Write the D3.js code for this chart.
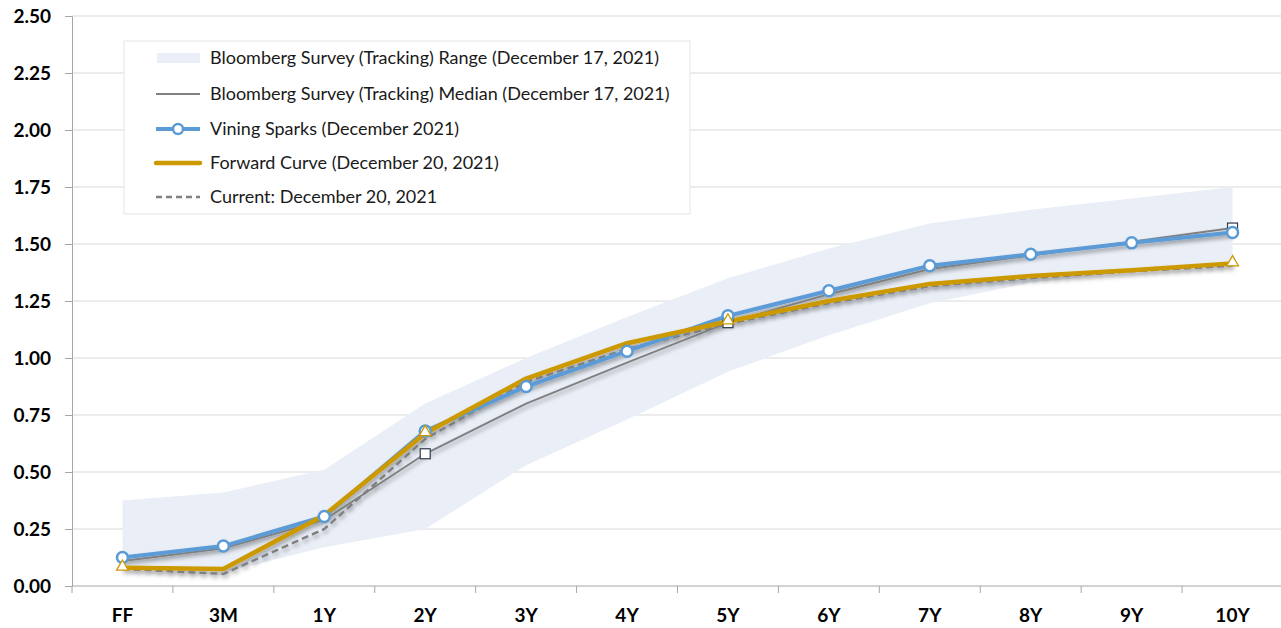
<!DOCTYPE html>
<html>
<head>
<meta charset="utf-8">
<script src="https://cdn.jsdelivr.net/npm/d3@7"></script>
<style>
  html, body { margin: 0; padding: 0; background: #fff; }
  svg { display: block; font-family: Lato, "Open Sans", "Liberation Sans", sans-serif; }
</style>
</head>
<body>
<svg id="chart" width="1281" height="628"></svg>
<script>
// Tenors along the curve
const tenors = ["FF", "3M", "1Y", "2Y", "3Y", "4Y", "5Y", "6Y", "7Y", "8Y", "9Y", "10Y"];

// Bloomberg survey range (low / high)
const rangeLow  = [0.08, 0.06, 0.17, 0.25, 0.53, 0.73, 0.94, 1.10, 1.24, 1.33, 1.38, 1.42];
const rangeHigh = [0.375, 0.41, 0.51, 0.80, 1.00, 1.18, 1.35, 1.48, 1.59, 1.65, 1.70, 1.75];

const median   = [0.11, 0.165, 0.29, 0.58, 0.80, 0.98, 1.155, 1.28, 1.39, 1.45, 1.51, 1.57];
const vining   = [0.125, 0.175, 0.305, 0.68, 0.875, 1.03, 1.185, 1.295, 1.405, 1.455, 1.505, 1.55];
const forward  = [0.08, 0.075, 0.31, 0.67, 0.91, 1.065, 1.16, 1.25, 1.325, 1.36, 1.385, 1.415];
const current  = [0.075, 0.053, 0.25, 0.645, 0.895, 1.04, 1.15, 1.24, 1.315, 1.35, 1.38, 1.405];

// only a few points carry markers in the original
const medianMarks  = ["2Y", "5Y", "10Y"];
const forwardMarks = ["FF", "2Y", "5Y", "10Y"];

const yTicks = [0, 0.25, 0.5, 0.75, 1.0, 1.25, 1.5, 1.75, 2.0, 2.25, 2.5];

const legendItems = [
  { label: "Bloomberg Survey (Tracking) Range (December 17, 2021)", kind: "range" },
  { label: "Bloomberg Survey (Tracking) Median (December 17, 2021)", kind: "median" },
  { label: "Vining Sparks (December 2021)", kind: "vining" },
  { label: "Forward Curve (December 20, 2021)", kind: "forward" },
  { label: "Current: December 20, 2021", kind: "current" },
];

const colors = {
  band: "#E9EEF7",
  median: "#808080",
  vining: "#5B9BD5",
  forward: "#CC9900",
  current: "#808080",
  grid: "#D9D9D9",
  axis: "#A6A6A6",
};

const margin = { top: 16, right: 0, bottom: 42, left: 72 };
const width = 1281, height = 628;
const innerW = 1283 - margin.left;
const innerH = height - margin.top - margin.bottom;

const svg = d3.select("#chart");

const defs = svg.append("defs");
const shadow = defs.append("filter").attr("id", "shadow")
  .attr("x", "-5%").attr("y", "-20%").attr("width", "110%").attr("height", "140%");
shadow.append("feDropShadow")
  .attr("dx", 1).attr("dy", 3).attr("stdDeviation", 2)
  .attr("flood-color", "#000").attr("flood-opacity", 0.35);

const g = svg.append("g").attr("transform", `translate(${margin.left},${margin.top})`);

const x = d3.scaleBand().domain(tenors).range([0, innerW]);
const cx = (t) => x(t) + x.bandwidth() / 2;
const y = d3.scaleLinear().domain([0, 2.5]).range([innerH, 0]);

// grid
g.append("g")
  .selectAll("line")
  .data(yTicks.filter((d) => d > 0))
  .enter()
  .append("line")
  .attr("x1", 0)
  .attr("x2", width - margin.left)
  .attr("y1", (d) => y(d))
  .attr("y2", (d) => y(d))
  .attr("stroke", colors.grid)
  .attr("stroke-width", 1);

// range band
const area = d3.area()
  .x((d, i) => cx(tenors[i]))
  .y0((d, i) => y(rangeLow[i]))
  .y1((d) => y(d));

g.append("path")
  .datum(rangeHigh)
  .attr("fill", colors.band)
  .attr("d", area);

// axes
const yAxis = d3.axisLeft(y).tickValues(yTicks).tickFormat(d3.format(".2f")).tickSize(7).tickPadding(14);
const yG = g.append("g").call(yAxis);
yG.select(".domain").attr("stroke", colors.axis);
yG.selectAll(".tick line").attr("stroke", colors.axis);
yG.selectAll(".tick text")
  .attr("font-family", "Lato, sans-serif")
  .attr("font-size", 19).attr("font-weight", "bold").attr("fill", "#000");

const xG = g.append("g").attr("transform", `translate(0,${innerH})`);
xG.append("line").attr("x1", 0).attr("x2", innerW).attr("stroke", colors.axis);
xG.selectAll(".xt")
  .data(tenors)
  .enter()
  .append("line")
  .attr("x1", (d) => x(d)).attr("x2", (d) => x(d))
  .attr("y1", 0).attr("y2", 7)
  .attr("stroke", colors.axis);
xG.selectAll(".xl")
  .data(tenors)
  .enter()
  .append("text")
  .attr("x", (d) => cx(d))
  .attr("y", 36)
  .attr("text-anchor", "middle")
  .attr("font-size", 19)
  .attr("font-weight", "bold")
  .text((d) => d);

// lines
const line = d3.line().x((d, i) => cx(tenors[i])).y((d) => y(d));

const lines = g.append("g").attr("filter", "url(#shadow)");

lines.append("path").datum(median)
  .attr("fill", "none").attr("stroke", colors.median).attr("stroke-width", 2)
  .attr("d", line);

lines.append("path").datum(current)
  .attr("fill", "none").attr("stroke", colors.current).attr("stroke-width", 2.5)
  .attr("stroke-dasharray", "7,4")
  .attr("d", line);

lines.append("path").datum(vining)
  .attr("fill", "none").attr("stroke", colors.vining).attr("stroke-width", 4)
  .attr("stroke-linejoin", "round")
  .attr("d", line);

lines.append("path").datum(forward)
  .attr("fill", "none").attr("stroke", colors.forward).attr("stroke-width", 4.5)
  .attr("stroke-linejoin", "round")
  .attr("d", line);

// markers
const marks = g.append("g");

marks.selectAll(".sq")
  .data(medianMarks)
  .enter()
  .append("rect")
  .attr("x", (t) => cx(t) - 5)
  .attr("y", (t) => y(median[tenors.indexOf(t)]) - 5)
  .attr("width", 10).attr("height", 10)
  .attr("fill", "#fff").attr("stroke", "#2F3B4C").attr("stroke-width", 1.2);

marks.selectAll(".ci")
  .data(tenors)
  .enter()
  .append("circle")
  .attr("cx", (t) => cx(t))
  .attr("cy", (t, i) => y(vining[i]))
  .attr("r", 5.5)
  .attr("fill", "#fff").attr("stroke", colors.vining).attr("stroke-width", 2.5);

const tri = d3.symbol().type(d3.symbolTriangle).size(60);
marks.selectAll(".tr")
  .data(forwardMarks)
  .enter()
  .append("path")
  .attr("transform", (t) => `translate(${cx(t)},${y(forward[tenors.indexOf(t)]) - 1})`)
  .attr("d", tri)
  .attr("fill", "#fff").attr("stroke", colors.forward).attr("stroke-width", 1.3);

// legend
const lg = svg.append("g").attr("transform", "translate(124,41)");
lg.append("rect")
  .attr("width", 566).attr("height", 173)
  .attr("fill", "#fff").attr("stroke", "#E6E6E6");

const rowY = [17, 53, 88, 122, 156];
const items = lg.selectAll(".item")
  .data(legendItems)
  .enter()
  .append("g")
  .attr("transform", (d, i) => `translate(0,${rowY[i]})`);

items.each(function (d) {
  const it = d3.select(this);
  if (d.kind === "range") {
    it.append("rect").attr("x", 33).attr("y", -5).attr("width", 43).attr("height", 10).attr("fill", colors.band);
  } else if (d.kind === "median") {
    it.append("line").attr("x1", 32).attr("x2", 76).attr("stroke", colors.median).attr("stroke-width", 2);
  } else if (d.kind === "vining") {
    it.append("line").attr("x1", 32).attr("x2", 76).attr("stroke", colors.vining).attr("stroke-width", 4);
    it.append("circle").attr("cx", 54).attr("r", 5).attr("fill", "#fff").attr("stroke", colors.vining).attr("stroke-width", 2.5);
  } else if (d.kind === "forward") {
    it.append("line").attr("x1", 32).attr("x2", 76).attr("stroke", colors.forward).attr("stroke-width", 4.5).attr("stroke-linecap", "round");
  } else {
    it.append("line").attr("x1", 32).attr("x2", 76).attr("stroke", colors.current).attr("stroke-width", 2.5).attr("stroke-dasharray", "6,4");
  }
  it.append("text")
    .attr("x", 86).attr("y", 6)
    .attr("font-size", 18)
    .attr("fill", "#1a1a1a")
    .text(d.label);
});
</script>
</body>
</html>
